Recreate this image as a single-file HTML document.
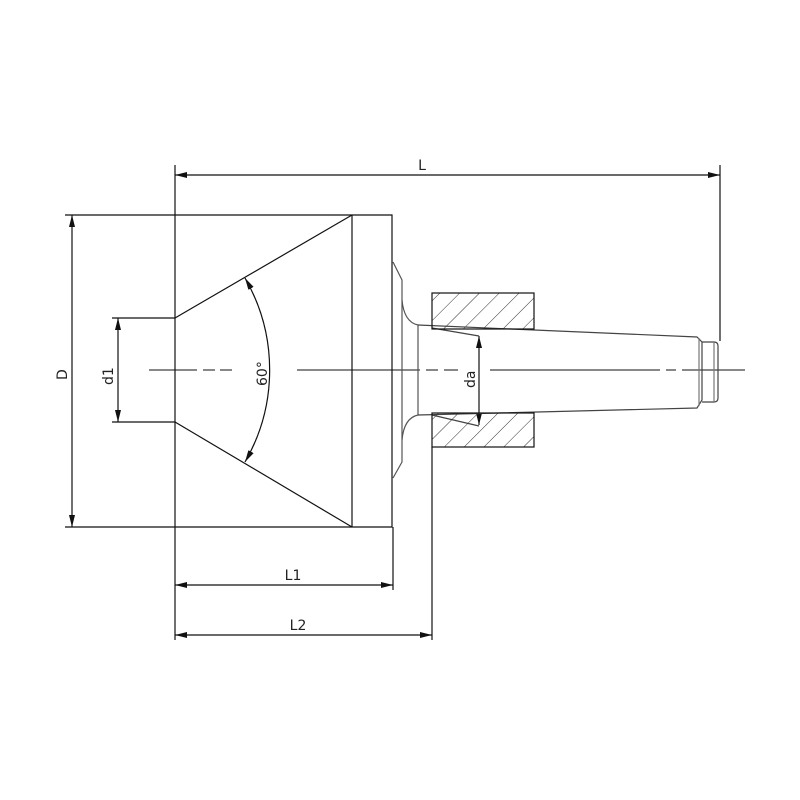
<!DOCTYPE html>
<html><head><meta charset="utf-8"><style>
html,body{margin:0;padding:0;background:#fff;}
svg{display:block;}
text{font-family:"DejaVu Sans","Liberation Sans",sans-serif;font-size:14px;fill:#222;}
</style></head><body>
<svg width="800" height="800" viewBox="0 0 800 800" xmlns="http://www.w3.org/2000/svg">
<defs>
<marker id="a" viewBox="0 0 12 6" refX="12" refY="3" markerWidth="12" markerHeight="6" orient="auto-start-reverse" markerUnits="userSpaceOnUse"><path d="M0,0 L12,3 L0,6 z" fill="#111"/></marker>
<pattern id="h" patternUnits="userSpaceOnUse" width="14" height="14" patternTransform="rotate(45)"><line x1="0" y1="0" x2="0" y2="14" stroke="#333" stroke-width="1"/></pattern>
</defs>
<g stroke="#111" stroke-width="1.2" fill="none">
<!-- centerline -->
<path d="M149,370H197M203,370H215M220,370H232M297,370H420M426,370H438M444,370H458M490,370H660M666,370H676M682,370H745" stroke-width="1"/>
<!-- extension lines -->
<line x1="175" y1="165" x2="175" y2="640"/>
<line x1="720" y1="165" x2="720" y2="341"/>
<line x1="65" y1="215" x2="175" y2="215"/>
<line x1="65" y1="527" x2="175" y2="527"/>
<line x1="112" y1="318" x2="175" y2="318"/>
<line x1="112" y1="422" x2="175" y2="422"/>
<line x1="393" y1="527" x2="393" y2="590"/>
<line x1="432" y1="447" x2="432" y2="640"/>
<!-- dims -->
<line x1="175" y1="175" x2="720" y2="175" marker-start="url(#a)" marker-end="url(#a)"/>
<line x1="72" y1="215" x2="72" y2="527" marker-start="url(#a)" marker-end="url(#a)"/>
<line x1="118" y1="318" x2="118" y2="422" marker-start="url(#a)" marker-end="url(#a)"/>
<line x1="175" y1="585" x2="393" y2="585" marker-start="url(#a)" marker-end="url(#a)"/>
<line x1="175" y1="635" x2="432" y2="635" marker-start="url(#a)" marker-end="url(#a)"/>
<line x1="479" y1="336" x2="479" y2="425" marker-start="url(#a)" marker-end="url(#a)"/>
<path d="M245,278 A184,184 0 0 1 245,462" marker-start="url(#a)" marker-end="url(#a)"/>
<!-- body -->
<path d="M175,215H392V527H175"/>
<line x1="352" y1="215" x2="352" y2="527"/>
<line x1="175" y1="318" x2="352" y2="215"/>
<line x1="175" y1="422" x2="352" y2="527"/>
<!-- flange -->
<path d="M393,262 L402,280 V462 L393,478" stroke="#555"/>
<path d="M402,300 Q404,322 418,325 V415 Q404,418 402,440" stroke="#555"/>
<!-- shank -->
<path d="M418,325 L697,337 L702,342 V400 L697,408 L418,415" stroke="#444"/>
<path d="M702,342 H714 Q718,342 718,346 V398 Q718,402 714,402 H702" stroke="#444"/>
<line x1="714" y1="342" x2="714" y2="402" stroke="#777"/>
<line x1="699" y1="338" x2="699" y2="406" stroke="#777"/>
<line x1="432" y1="328" x2="479" y2="336" stroke="#444"/>
<line x1="432" y1="415" x2="479" y2="426" stroke="#444"/>
<!-- sockets -->
<rect x="432" y="293" width="102" height="36" fill="url(#h)"/>
<rect x="432" y="413" width="102" height="34" fill="url(#h)"/>
</g>
<text x="422" y="170" text-anchor="middle">L</text>
<text x="293" y="580" text-anchor="middle">L1</text>
<text x="298" y="630" text-anchor="middle">L2</text>
<text transform="translate(67,380) rotate(-90)">D</text>
<text transform="translate(113,385) rotate(-90)">d1</text>
<text transform="translate(267,386) rotate(-90)">60°</text>
<text transform="translate(475,388) rotate(-90)">da</text>
</svg>
</body></html>
